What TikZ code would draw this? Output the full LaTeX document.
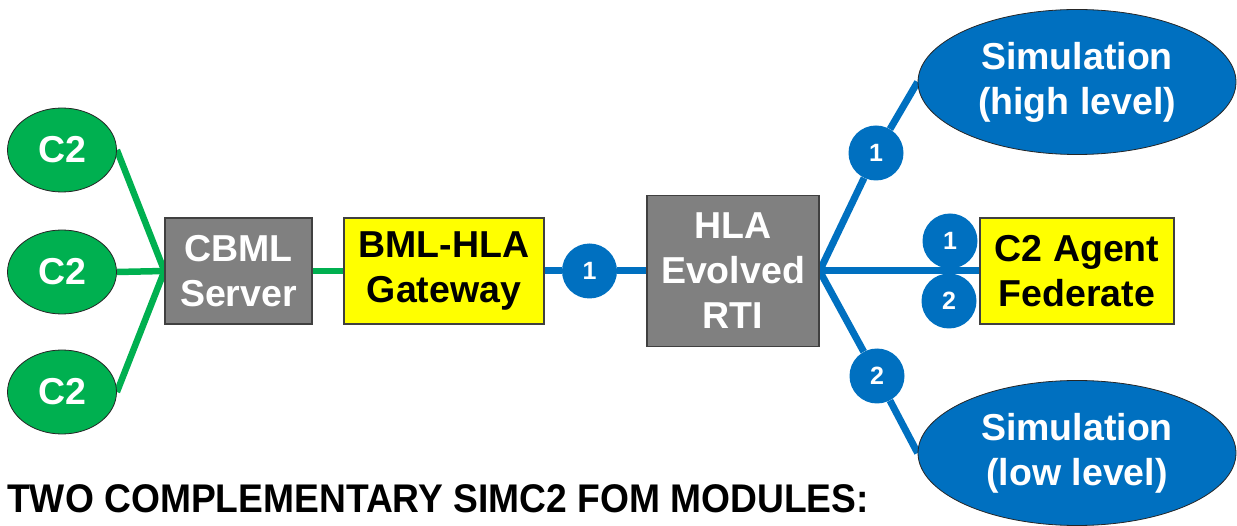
\documentclass[tikz,border=0pt]{standalone}
\usepackage{fontspec}
\setmainfont{Liberation Sans}
\newfontfamily\titlefont[FakeStretch=0.93]{Liberation Sans}
\usetikzlibrary{shapes.geometric}
\definecolor{cgreen}{HTML}{00B050}
\definecolor{cblue}{HTML}{0070C0}
\definecolor{cgray}{HTML}{808080}
\definecolor{cyellow}{HTML}{FFFF00}
\pgfdeclarelayer{bg}
\pgfsetlayers{bg,main}
\begin{document}
\begin{tikzpicture}[x=1pt,y=-1pt,
  lbl/.style={font=\fontsize{37.5}{45}\selectfont\bfseries, align=center, inner sep=0pt},
  c2node/.style={ellipse, draw=black!85, line width=0.8pt, fill=cgreen, minimum width=109pt, minimum height=84pt, text=white, lbl},
  simnode/.style={ellipse, draw=black!85, line width=0.8pt, fill=cblue, minimum width=318pt, minimum height=145pt, text=white, lbl},
  graybox/.style={rectangle, draw=black!75, line width=1.2pt, fill=cgray, text=white, lbl},
  yellowbox/.style={rectangle, draw=black!75, line width=1.2pt, fill=cyellow, text=black, lbl},
  badge/.style={circle, fill=cblue, minimum size=55pt, inner sep=0pt, text=white, font=\fontsize{25}{30}\selectfont\bfseries},
  gline/.style={draw=cgreen, line width=6.5pt},
  bline/.style={draw=cblue, line width=7pt}
]
\useasboundingbox (0,0) rectangle (1237,526);

% C2 nodes
\node[c2node] (ca) at (62,150) {C2};
\node[c2node] (cb) at (62,272) {C2};
\node[c2node] (cc) at (62,392) {C2};

% boxes
\node[graybox, minimum width=147pt, minimum height=106pt] (cbml) at (238.5,271) {CBML\\Server};
\node[yellowbox, minimum width=200pt, minimum height=106pt] (gw) at (444,271) {BML-HLA\\Gateway};
\node[graybox, minimum width=172pt, minimum height=151pt] (rti) at (733,271) {HLA\\Evolved\\RTI};
\node[yellowbox, minimum width=194pt, minimum height=106pt] (agent) at (1077,271) {C2 Agent\\Federate};

% simulations
\node[simnode] (simhi) at (1077,82) {Simulation\\(high level)};
\node[simnode] (simlo) at (1077,453) {Simulation\\(low level)};

% badges
\node[badge] (b0) at (589.5,271) {1};
\node[badge] (b1) at (876,153) {1};
\node[badge] (b2) at (877,376) {2};
\node[badge] (b3) at (950,241) {1};
\node[badge] (b4) at (949,301) {2};

% title
\node[anchor=base west, inner sep=0pt, font=\titlefont\fontsize{40}{48}\selectfont\bfseries] (title) at (7,512) {TWO COMPLEMENTARY SIMC2 FOM MODULES:};

\begin{pgfonlayer}{bg}
  \draw[gline] (ca.east) -- (cbml.west);
  \draw[gline] (cb.east) -- (cbml.west);
  \draw[gline] (cc.east) -- (cbml.west);
  \draw[gline] (cbml.east) -- (gw.west);
  \draw[bline] (gw.east) -- (b0) -- (rti.west);
  \draw[bline] (rti.east) -- (b1) -- (simhi.west);
  \draw[bline] (rti.east) -- (b2) -- (simlo.west);
  \draw[bline] (rti.east) -- (agent.west);
\end{pgfonlayer}
\end{tikzpicture}
\end{document}
